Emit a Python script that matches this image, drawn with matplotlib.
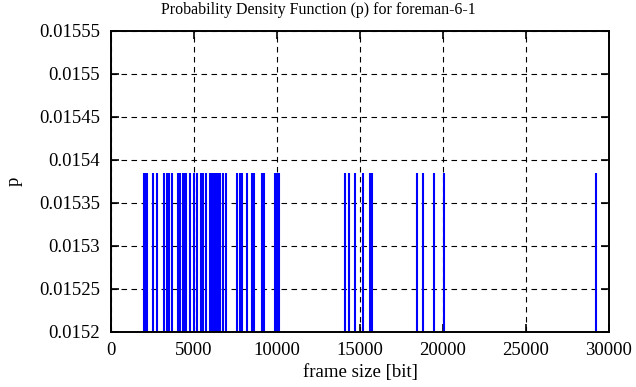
import matplotlib
matplotlib.use("Agg")
import matplotlib.pyplot as plt

# frame sizes [bit]
frame_sizes = [1958, 2048, 2169, 2560, 2771, 3193, 3373, 3494, 3645, 4036, 4157,
               4337, 4428, 4548, 4729, 5000, 5151, 5422, 5542, 5693, 5964, 6084,
               6205, 6325, 6446, 6566, 6777, 6946, 7590, 7771, 7892, 8193, 8494,
               8614, 9096, 9217, 9880, 10000, 10120, 14096, 14337, 14699, 15181,
               15602, 15723, 18434, 18795, 19458, 20060, 29217]
p_values = [1.0 / 65] * len(frame_sizes)

x_ticks = [0, 5000, 10000, 15000, 20000, 25000, 30000]
x_tick_labels = ["0", "5000", "10000", "15000", "20000", "25000", "30000"]
y_ticks = [0.0152, 0.01525, 0.0153, 0.01535, 0.0154, 0.01545, 0.0155, 0.01555]
y_tick_labels = ["0.0152", "0.01525", "0.0153", "0.01535", "0.0154", "0.01545",
                 "0.0155", "0.01555"]

plt.rcParams['font.family'] = ['Liberation Serif', 'DejaVu Serif']

fig = plt.figure(figsize=(6.36, 3.87), dpi=100)
ax = fig.add_axes([111 / 636, 1 - 332 / 387, 498 / 636, 301 / 387])

ax.vlines(frame_sizes, 0, p_values, colors='#0000ff', linewidth=1.5, zorder=3)

ax.set_xlim(0, 30000)
ax.set_ylim(0.0152, 0.01555)
ax.set_xticks(x_ticks)
ax.set_xticklabels(x_tick_labels)
ax.set_yticks(y_ticks)
ax.set_yticklabels(y_tick_labels)

ax.grid(True, color='black', linestyle=(0, (5, 4)), linewidth=0.8, zorder=1)
ax.set_axisbelow(True)
ax.tick_params(direction='in', length=6, width=1.2, top=True, right=True,
               labelsize=13.5)
ax.tick_params(axis='x', pad=7)
ax.tick_params(axis='y', pad=8)
for s in ax.spines.values():
    s.set_linewidth(1.4)
    s.set_zorder(4)

fig.text(0.5, 1 - 10 / 387, "Probability Density Function (p) for foreman-6-1",
         fontsize=11.5, ha='center', va='center')
ax.set_xlabel("frame size [bit]", fontsize=13.5, labelpad=4)
ax.set_ylabel("p", fontsize=13.5, labelpad=12)

fig.savefig("out.png", dpi=100)
